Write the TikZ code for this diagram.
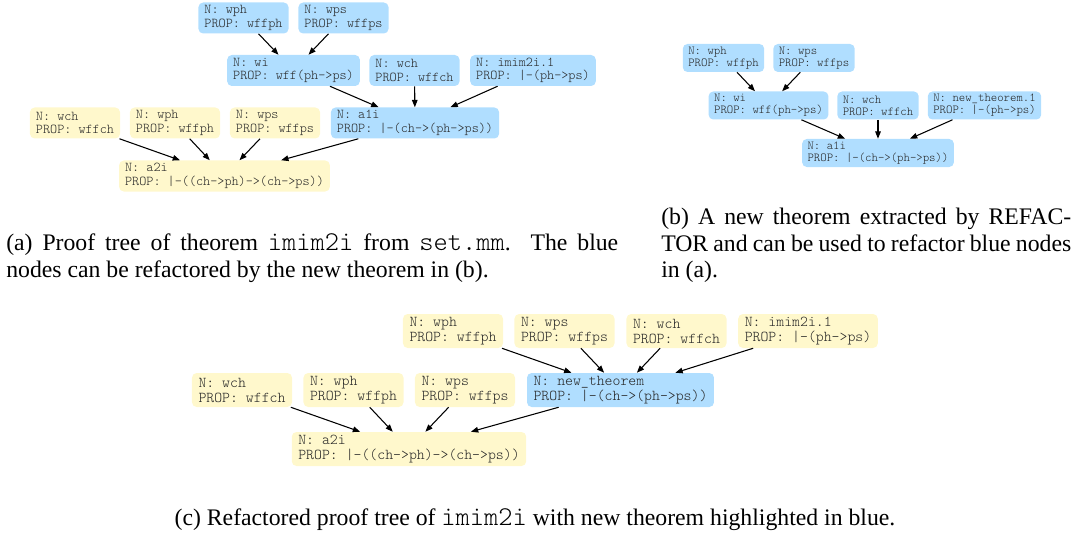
\documentclass[tikz,border=0pt]{standalone}
\usepackage{fontspec}
\setmainfont{Liberation Serif}
\setmonofont[Scale=1.143]{Latin Modern Mono Light}
\usetikzlibrary{arrows.meta}
\definecolor{nodeblue}{RGB}{176,222,255}
\definecolor{nodeyellow}{RGB}{255,248,204}

\begin{document}
\begin{tikzpicture}[x=0.75pt,y=-0.75pt]
        \useasboundingbox (0,0) rectangle (1072,535);
        \tikzstyle{pnode} = [rounded corners=3.5pt, align=left, text=black!85, inner ysep=0pt]
        \tikzstyle{bnode} = [pnode, fill=nodeblue]
        \tikzstyle{ynode} = [pnode, fill=nodeyellow]
        \tikzstyle{proof} = [-{Triangle[length=5.5pt,width=4.2pt]}, line width=0.8pt]
        \tikzstyle{caption} = [inner sep=0pt, font=\fontsize{17.8}{19.9}\selectfont]

        % (a) proof tree of imim2i
        \begin{scope}[every node/.append style={font=\fontsize{8.87}{10.1}\selectfont\ttfamily, minimum height=23.25pt, inner xsep=4.5pt}]
        \node[bnode] (a-wph) at (243.5,18) {N: wph\\PROP: wffph};
        \node[bnode] (a-wps) at (343.5,18) {N: wps\\PROP: wffps};
        \node[bnode] (a-wi) at (293.5,70.5) {N: wi\\PROP: wff(ph->ps)};
        \node[bnode] (a-wch) at (414.5,70.5) {N: wch\\PROP: wffch};
        \node[bnode] (a-imim) at (533,70.5) {N: imim2i.1\\PROP: |-(ph->ps)};
        \node[ynode] (a-wch2) at (75,123) {N: wch\\PROP: wffch};
        \node[ynode] (a-wph2) at (175,123) {N: wph\\PROP: wffph};
        \node[ynode] (a-wps2) at (275,123) {N: wps\\PROP: wffps};
        \node[bnode] (a-a1i) at (415,123) {N: a1i\\PROP: |-(ch->(ph->ps))};
        \node[ynode] (a-a2i) at (224.5,176) {N: a2i\\PROP: |-((ch->ph)->(ch->ps))};
        \end{scope}
        \path[proof] (a-wph) edge (a-wi);
        \path[proof] (a-wps) edge (a-wi);
        \path[proof] (a-wi) edge (a-a1i);
        \path[proof] (a-wch) edge (a-a1i);
        \path[proof] (a-imim) edge (a-a1i);
        \path[proof] (a-wch2) edge (a-a2i);
        \path[proof] (a-wph2) edge (a-a2i);
        \path[proof] (a-wps2) edge (a-a2i);
        \path[proof] (a-a1i) edge (a-a2i);

        % (b) the extracted theorem
        \begin{scope}[every node/.append style={font=\fontsize{8.0}{9.1}\selectfont\ttfamily, minimum height=21pt, inner xsep=4.1pt}]
        \node[bnode] (b-wph) at (723.5,58) {N: wph\\PROP: wffph};
        \node[bnode] (b-wps) at (814,58) {N: wps\\PROP: wffps};
        \node[bnode] (b-wi) at (768.5,105.5) {N: wi\\PROP: wff(ph->ps)};
        \node[bnode] (b-wch) at (878,105.5) {N: wch\\PROP: wffch};
        \node[bnode] (b-nt) at (984.5,105.5) {N: new\_theorem.1\\PROP: |-(ph->ps)};
        \node[bnode] (b-a1i) at (878,153) {N: a1i\\PROP: |-(ch->(ph->ps))};
        \end{scope}
        \path[proof] (b-wph) edge (b-wi);
        \path[proof] (b-wps) edge (b-wi);
        \path[proof] (b-wi) edge (b-a1i);
        \path[proof] (b-wch) edge (b-a1i);
        \path[proof] (b-nt) edge (b-a1i);

        % (c) refactored proof tree
        \begin{scope}[every node/.append style={font=\fontsize{9.88}{11.25}\selectfont\ttfamily, minimum height=25.5pt, inner xsep=4.9pt}]
        \node[ynode] (c-wph) at (453,331) {N: wph\\PROP: wffph};
        \node[ynode] (c-wps) at (564.5,331) {N: wps\\PROP: wffps};
        \node[ynode] (c-wch) at (676.5,331) {N: wch\\PROP: wffch};
        \node[ynode] (c-imim) at (808,331) {N: imim2i.1\\PROP: |-(ph->ps)};
        \node[ynode] (c-wch2) at (242,390) {N: wch\\PROP: wffch};
        \node[ynode] (c-wph2) at (353.5,390) {N: wph\\PROP: wffph};
        \node[ynode] (c-wps2) at (465,390) {N: wps\\PROP: wffps};
        \node[bnode] (c-nt) at (620.5,390) {N: new\_theorem\\PROP: |-(ch->(ph->ps))};
        \node[ynode] (c-a2i) at (409,449) {N: a2i\\PROP: |-((ch->ph)->(ch->ps))};
        \end{scope}
        \path[proof] (c-wph) edge (c-nt);
        \path[proof] (c-wps) edge (c-nt);
        \path[proof] (c-wch) edge (c-nt);
        \path[proof] (c-imim) edge (c-nt);
        \path[proof] (c-wch2) edge (c-a2i);
        \path[proof] (c-wph2) edge (c-a2i);
        \path[proof] (c-wps2) edge (c-a2i);
        \path[proof] (c-nt) edge (c-a2i);

        % captions
        \node[caption, anchor=north west, text width=459pt, align=justify] (cap-a) at (6,232)
        {\strut(a) Proof tree of theorem \texttt{imim2i} from \texttt{set.mm}. The blue\linebreak nodes can be refactored by the new theorem in (b).};
        \node[caption, anchor=north west, text width=307.5pt, align=justify] (cap-b) at (661,206)
        {\strut(b) A new theorem extracted by REFAC-\linebreak TOR and can be used to refactor blue nodes\linebreak in (a).};
        \node[caption, anchor=base] (cap-c) at (535,525)
        {(c) Refactored proof tree of \texttt{imim2i} with new theorem highlighted in blue.};
\end{tikzpicture}
\end{document}
